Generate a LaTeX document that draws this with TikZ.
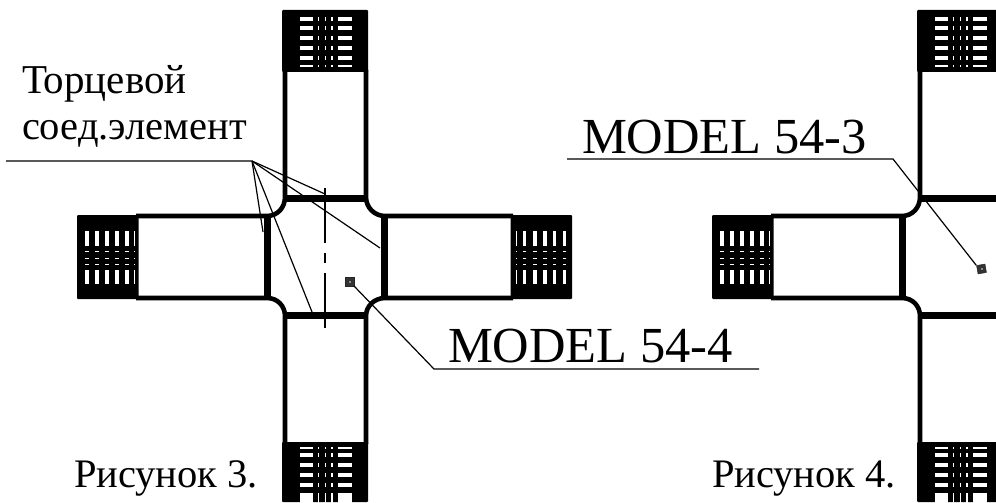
\documentclass[tikz,border=0pt]{standalone}
\usepackage{fontspec}
\setmainfont{Liberation Serif}
\tikzset{
  wall/.style={draw=black,line width=4.6pt,line join=round},
  bar/.style={draw=black,line width=7pt},
  block/.style={fill=black,rounded corners=1pt},
  slot/.style={fill=white},
  leader/.style={draw=black,line width=1.2pt},
  axisline/.style={draw=black,line width=1.2pt},
  lbl/.style={anchor=base west,inner sep=0pt,outer sep=0pt,text=black},
  marker/.style={fill=black!80,draw=black!85,line width=0.5pt}
}
\newcommand{\vcols}{299.5/312.5,317.5/319,324.5/326,330.5/332.5,337.5/351.5}
\newcommand{\hrows}{231/245.5,250.5/252,257.5/259,263.5/265,269.5/284}
\newcommand{\crossbody}{%
  % top and bottom blocks
  \fill[block] (282,10) rectangle (368,72);
  \fill[block] (282,442) rectangle (368,502);
  \foreach \ra/\rb in {17/21,26.5/30,36/40,46/50,56/60,65.5/67,447/448.5,453/457,463/467,473/477,483/487,493/504}
    \foreach \ca/\cb in \vcols
      \fill[slot] (\ca,\ra) rectangle (\cb,\rb);
  % left block
  \fill[block] (77,215) rectangle (138.5,299);
  \foreach \ra/\rb in \hrows
    \foreach \ca/\cb in {84.5/89,94.5/99,104.5/109,114.5/119,124.5/129,133.5/135}
      \fill[slot] (\ca,\ra) rectangle (\cb,\rb);
  % walls
  \draw[wall] (285,70) -- (285,197) .. controls (285,207.5) and (277.5,216) .. (267,216) -- (136,216);
  \draw[wall] (136,298) -- (267,298) .. controls (277.5,298) and (285,306) .. (285,316) -- (285,444);
  \draw[wall] (366,70) -- (366,197) .. controls (366,207.5) and (374.5,216) .. (385,216) -- (513,216);
  \draw[wall] (513,298) -- (385,298) .. controls (374.5,298) and (366,306) .. (366,316) -- (366,444);
  % connecting bars
  \draw[bar] (285,198.5) -- (366,198.5);
  \draw[bar] (285,315) -- (366,315);
  \draw[bar] (267,216) -- (267,298);
  \draw[bar] (384,216) -- (384,298);
}
\begin{document}
\begin{tikzpicture}[x=1pt,y=-1pt]
\useasboundingbox (0,0) rectangle (996,503);
\clip (0,0) rectangle (996,503);
% Figure 3
\crossbody
% right block of figure 3
\fill[block] (510.5,215) rectangle (572,299);
\foreach \ra/\rb in \hrows
  \foreach \ca/\cb in {515.5/517,522.5/526,532.5/537,542.5/547,552.5/556,562.5/566}
    \fill[slot] (\ca,\ra) rectangle (\cb,\rb);
% Figure 4
\begin{scope}[xshift=635pt]
\crossbody
\end{scope}
% axis of figure 3
\coordinate (axA) at (325,188);
\coordinate (axB) at (325,243);
\coordinate (axC) at (325,253);
\coordinate (axD) at (325,263);
\coordinate (axE) at (325,273);
\coordinate (axF) at (325,328);
\draw[axisline] (axA) -- (axB) (axC) -- (axD) (axE) -- (axF);
% markers
\node[marker,minimum size=8.5pt,inner sep=0pt] (m3) at (349.5,281.5) {};
\fill[black!45] (348.5,280.5) rectangle (350.5,282.5);
\node[marker,minimum size=8.5pt,inner sep=0pt,rotate=10] (m4) at (981.5,269) {};
\fill[black!45] (980.5,268) rectangle (982.5,270);
% end-connector label and leaders
\node[lbl,font=\fontsize{41}{48}\selectfont] (t1) at (22,93) {Торцевой};
\node[lbl,font=\fontsize{40.5}{48}\selectfont] (t2) at (22,139) {соед.элемент};
\coordinate (tA) at (6,161);
\coordinate (tB) at (252,161);
\coordinate (e1) at (325,194);
\coordinate (e2) at (380,248);
\coordinate (e3) at (312,312);
\coordinate (e4) at (263,232);
\draw[leader] (tA) -- (tB) -- (e1);
\draw[leader] (tB) -- (e2);
\draw[leader] (tB) -- (e3);
\draw[leader] (tB) -- (e4);
% MODEL 54-4
\node[lbl,font=\fontsize{50.5}{60}\selectfont] (t3) at (448,362) {MODEL 54-4};
\coordinate (u1) at (434,369);
\coordinate (u2) at (759,369);
\draw[leader] (m3.south east) -- (u1) -- (u2);
% MODEL 54-3
\node[lbl,font=\fontsize{50.5}{60}\selectfont] (t4) at (582,153) {MODEL 54-3};
\coordinate (v1) at (567,159);
\coordinate (v2) at (893,159);
\draw[leader] (v1) -- (v2) -- (m4.north west);
% captions
\node[lbl,font=\fontsize{40.5}{48}\selectfont] (c3) at (74,487) {Рисунок 3.};
\node[lbl,font=\fontsize{40.5}{48}\selectfont] (c4) at (712,487) {Рисунок 4.};
\end{tikzpicture}
\end{document}
